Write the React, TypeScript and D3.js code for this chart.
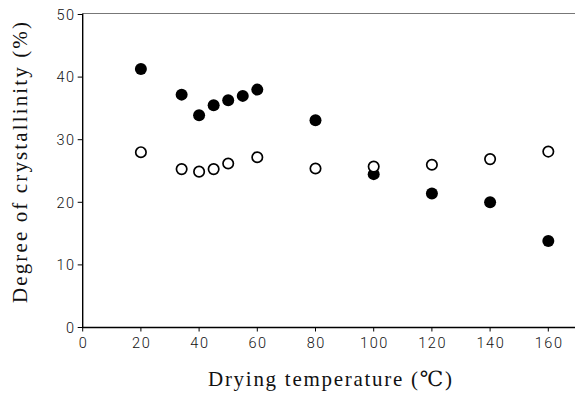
import React from "react";
import * as d3 from "d3";

// Drying temperature (°C) and degree of crystallinity (%) for the two sample series
const filledTemps = [20, 34, 40, 45, 50, 55, 60, 80, 100, 120, 140, 160];
const filledValues = [41.3, 37.2, 33.9, 35.5, 36.3, 37.0, 38.0, 33.1, 24.5, 21.4, 20.0, 13.8];
const openTemps = [20, 34, 40, 45, 50, 60, 80, 100, 120, 140, 160];
const openValues = [28.0, 25.3, 24.9, 25.3, 26.2, 27.2, 25.4, 25.7, 26.0, 26.9, 28.1];

const xTicks = [0, 20, 40, 60, 80, 100, 120, 140, 160];
const yTicks = [0, 10, 20, 30, 40, 50];

const W = 575;
const H = 393;

export default function App() {
  const x = d3.scaleLinear().domain([0, 170]).range([82.7, 577.4]);
  const y = d3.scaleLinear().domain([0, 50]).range([327.5, 14.5]);
  const tickFont = "Roboto, 'DejaVu Sans', sans-serif";
  const titleFont = "'Liberation Serif', 'DejaVu Serif', serif";

  return (
    <svg
      width={W}
      height={H}
      style={{ position: "absolute", left: 0, top: 0, background: "#fff" }}
    >
      {/* frame: faint top border, black left and bottom axes */}
      <line x1={x(0)} x2={W} y1={y(50) - 1} y2={y(50) - 1} stroke="#777" strokeWidth={1} />
      <line x1={x(0)} x2={x(0)} y1={y(50) - 1} y2={y(0)} stroke="#000" strokeWidth={1.4} />
      <line x1={x(0) - 0.7} x2={W} y1={y(0)} y2={y(0)} stroke="#000" strokeWidth={1.5} />

      {/* y ticks */}
      {yTicks.map((t) => (
        <g key={"y" + t}>
          <line x1={x(0) - 5} x2={x(0)} y1={y(t)} y2={y(t)} stroke="#000" strokeWidth={1} />
          <text
            x={x(0) - 7}
            y={y(t)}
            dy="0.36em"
            textAnchor="end"
            fontFamily={tickFont}
            fontWeight={300}
            fontSize={14.5}
            letterSpacing={1.6}
            fill="#111"
          >
            {t}
          </text>
        </g>
      ))}

      {/* x ticks */}
      {xTicks.map((t) => (
        <g key={"x" + t}>
          <line x1={x(t)} x2={x(t)} y1={y(0)} y2={y(0) + 4} stroke="#000" strokeWidth={1} />
          <text
            x={x(t) + 0.8}
            y={348}
            textAnchor="middle"
            fontFamily={tickFont}
            fontWeight={300}
            fontSize={14.5}
            letterSpacing={1.6}
            fill="#111"
          >
            {t}
          </text>
        </g>
      ))}

      {/* filled series */}
      {filledTemps.map((t, i) => (
        <circle key={"f" + i} cx={x(t)} cy={y(filledValues[i])} r={6} fill="#000" />
      ))}

      {/* open series, drawn on top */}
      {openTemps.map((t, i) => (
        <circle
          key={"o" + i}
          cx={x(t)}
          cy={y(openValues[i])}
          r={5.2}
          fill="#fff"
          stroke="#000"
          strokeWidth={1.7}
        />
      ))}

      {/* axis titles */}
      <text
        x={208}
        y={386}
        fontFamily={titleFont}
        fontSize={21}
        textLength={244}
        lengthAdjust="spacing"
        fill="#111"
      >
        Drying temperature (℃)
      </text>
      <text
        transform={`translate(27,303) rotate(-90)`}
        x={0}
        y={0}
        fontFamily={titleFont}
        fontSize={21}
        textLength={281}
        lengthAdjust="spacing"
        fill="#111"
      >
        Degree of crystallinity (%)
      </text>
    </svg>
  );
}
